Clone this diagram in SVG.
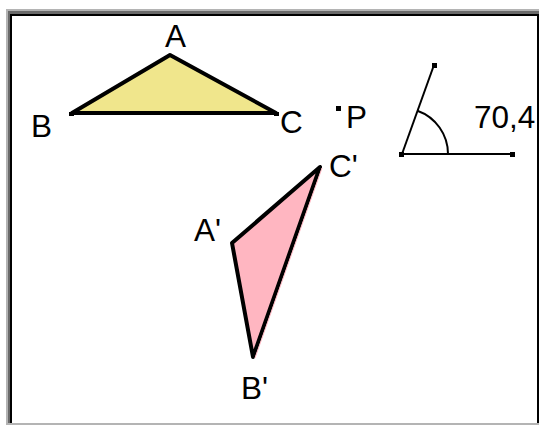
<svg xmlns="http://www.w3.org/2000/svg" width="539" height="425" viewBox="0 0 539 425">
<style>
.lbl{font-family:"Liberation Sans",Arial,sans-serif;font-size:31.5px;fill:#000}
.tri{stroke:#000;stroke-width:4;stroke-linejoin:round}
.seg{stroke:#000;stroke-width:2;fill:none}
.pt{fill:#000}
</style>
<rect x="0" y="0" width="539" height="425" fill="#fff"/>
<rect x="6" y="9" width="533" height="416" fill="#b4b4b4"/>
<rect x="8" y="11" width="531" height="412" fill="#6a6a6a"/>
<rect x="10" y="14" width="529" height="409" fill="#000"/>
<rect x="12" y="16" width="525" height="407" fill="#fff"/>
<g id="triangleABC">
<polygon class="tri" points="170,55 72,113 276,113" fill="#f0e68c"/>
<rect class="pt" x="69" y="112" width="5" height="4"/>
<rect class="pt" x="274" y="112" width="5" height="4"/>
</g>
<g id="triangleA1B1C1">
<polygon class="tri" points="232,243 253,357 320,167" fill="#ffb6c1"/>
<line x1="322" y1="168" x2="255" y2="358" stroke="#ffb6c1" stroke-width="1"/>
</g>
<g id="pointP">
<rect class="pt" x="336" y="106" width="5" height="5"/>
</g>
<g id="angle">
<line class="seg" x1="402" y1="154" x2="434" y2="65"/>
<line class="seg" x1="402" y1="154" x2="512" y2="154"/>
<path class="seg" d="M448,154 A46,46 0 0 0 417.4,110.7"/>
<rect class="pt" x="432" y="63" width="5" height="5"/>
<rect class="pt" x="399" y="152" width="5" height="5"/>
<rect class="pt" x="510" y="152" width="5" height="5"/>
</g>
<g id="labels">
<text class="lbl" x="165" y="47">A</text>
<text class="lbl" x="31" y="137">B</text>
<text class="lbl" x="280" y="133">C</text>
<text class="lbl" x="346" y="128">P</text>
<text class="lbl" x="474" y="128">70,4</text>
<text class="lbl" x="329" y="177">C'</text>
<text class="lbl" x="194" y="241">A'</text>
<text class="lbl" x="241" y="399">B'</text>
</g>
</svg>
